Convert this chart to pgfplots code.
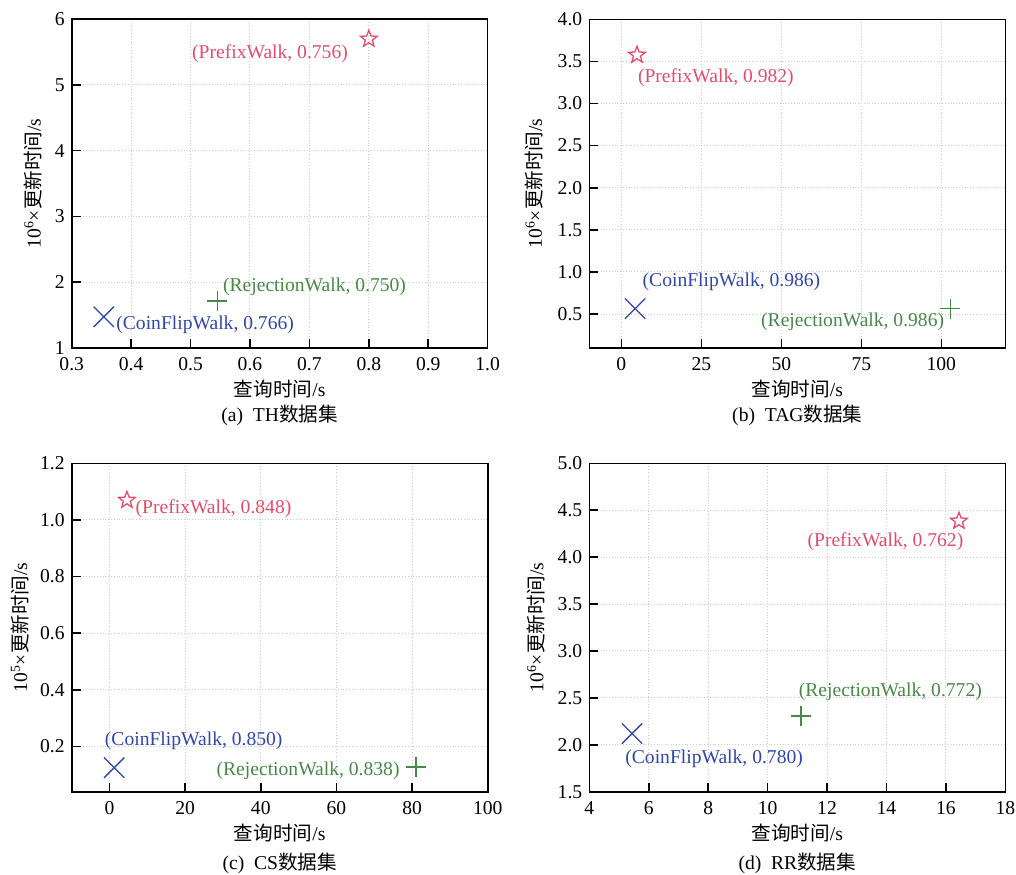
\documentclass[border=0pt]{standalone}
\usepackage{fontspec}
\setmainfont{Liberation Serif}
\newfontfamily\cjk{Noto Sans CJK SC}
\usepackage{pgfplots}
\pgfplotsset{compat=1.18}
\definecolor{cpink}{RGB}{222,78,108}
\definecolor{cblue}{RGB}{50,70,165}
\definecolor{cgreen}{RGB}{72,135,72}

\pgfdeclareplotmark{ostar}{%
  \pgfpathmoveto{\pgfpointpolar{90}{\pgfplotmarksize}}%
  \pgfpathlineto{\pgfpointpolar{126}{.42\pgfplotmarksize}}%
  \pgfpathlineto{\pgfpointpolar{162}{\pgfplotmarksize}}%
  \pgfpathlineto{\pgfpointpolar{198}{.42\pgfplotmarksize}}%
  \pgfpathlineto{\pgfpointpolar{234}{\pgfplotmarksize}}%
  \pgfpathlineto{\pgfpointpolar{270}{.42\pgfplotmarksize}}%
  \pgfpathlineto{\pgfpointpolar{306}{\pgfplotmarksize}}%
  \pgfpathlineto{\pgfpointpolar{342}{.42\pgfplotmarksize}}%
  \pgfpathlineto{\pgfpointpolar{18}{\pgfplotmarksize}}%
  \pgfpathlineto{\pgfpointpolar{54}{.42\pgfplotmarksize}}%
  \pgfpathclose
  \pgfusepathqstroke
}

\pgfplotsset{
  myax/.style={
    scale only axis, width=208pt, height=164.2pt,
    axis line style={line width=0.8pt},
    tick align=inside, tick pos=left,
    major tick length=4.5pt,
    every tick/.style={black, line width=0.8pt},
    grid=major, grid style={densely dotted, gray!40, line width=0.5pt},
    /pgf/number format/assume math mode=true,
    tick label style={font=\fontsize{9.8}{12}\selectfont},
    xticklabel style={yshift=-1.5pt},
    label style={font=\fontsize{9.8}{12}\selectfont},
    x label style={at={(axis description cs:0.5,0)},anchor=center,yshift=-20.5pt},
    xlabel={{\cjk 查询时间}/s},
    clip=false,
  },
  yl/.style={y label style={at={([xshift=-#1]axis description cs:0,0.5)},anchor=center}},
  pstar/.style={only marks, mark=ostar, mark size=4.4pt, color=cpink, mark options={line width=0.65pt}},
  pcross/.style={only marks, mark=x, mark size=7.2pt, color=cblue, mark options={line width=0.65pt}},
  pplus/.style={only marks, mark=+, mark size=5pt, color=cgreen, mark options={line width=0.65pt}},
  onedec/.style={#1ticklabel style={/pgf/number format/.cd, fixed, fixed zerofill, precision=1}},
}
\tikzset{lab/.style={font=\fontsize{9.8}{12}\selectfont, inner sep=0pt}}

\begin{document}
\begin{tikzpicture}
\useasboundingbox (0,0) rectangle (508pt,437pt);

% (a) TH
\begin{axis}[myax, at={(35.85pt,263.15pt)}, anchor=south west,
  xmin=0.3, xmax=1.0, ymin=1, ymax=6,
  xtick={0.3,0.4,0.5,0.6,0.7,0.8,0.9,1.0}, ytick={1,2,3,4,5,6},
  onedec=x, yl=19.3pt,
  ylabel={10\textsuperscript{6}×{\cjk 更新时间}/s}]
\addplot[pstar] coordinates {(0.800,5.70)};
\addplot[pcross] coordinates {(0.354,1.47)};
\addplot[pplus] coordinates {(0.545,1.71)};
\node[lab, anchor=east, text=cpink] at (axis cs:0.7654,5.469) {(PrefixWalk, 0.756)};
\node[lab, anchor=west, text=cgreen] at (axis cs:0.554,1.930) {(RejectionWalk, 0.750)};
\node[lab, anchor=west, text=cblue] at (axis cs:0.3745,1.347) {(CoinFlipWalk, 0.766)};
\node[lab] at (rel axis cs:0.5,0) [yshift=-33.65pt] {(a)\ \ TH{\cjk 数据集}};
\end{axis}

% (b) TAG
\begin{axis}[myax, at={(294.65pt,263.15pt)}, anchor=south west,
  xmin=-10, xmax=120, ymin=0.1, ymax=4.0,
  xtick={0,25,50,75,100}, ytick={0.5,1.0,1.5,2.0,2.5,3.0,3.5,4.0},
  onedec=y, yl=27.4pt,
  ylabel={10\textsuperscript{6}×{\cjk 更新时间}/s}]
\addplot[pstar] coordinates {(4.9,3.576)};
\addplot[pcross] coordinates {(4.3,0.564)};
\addplot[pplus] coordinates {(102.8,0.564)};
\node[lab, anchor=west, text=cpink] at (axis cs:5.1,3.306) {(PrefixWalk, 0.982)};
\node[lab, anchor=west, text=cblue] at (axis cs:6.55,0.888) {(CoinFlipWalk, 0.986)};
\node[lab, anchor=east, text=cgreen] at (axis cs:101.0,0.404) {(RejectionWalk, 0.986)};
\node[lab] at (rel axis cs:0.5,0) [yshift=-33.65pt] {(b)\ \ TAG{\cjk 数据集}};
\end{axis}

% (c) CS
\begin{axis}[myax, at={(35.85pt,41.15pt)}, anchor=south west,
  xmin=-10, xmax=100, ymin=0.04, ymax=1.2,
  xtick={0,20,40,60,80,100}, ytick={0.2,0.4,0.6,0.8,1.0,1.2},
  onedec=y, yl=26pt,
  ylabel={10\textsuperscript{5}×{\cjk 更新时间}/s}]
\addplot[pstar] coordinates {(4.6,1.07)};
\addplot[pcross] coordinates {(1.24,0.125)};
\addplot[pplus] coordinates {(81.05,0.127)};
\node[lab, anchor=west, text=cpink] at (axis cs:6.8,1.039) {(PrefixWalk, 0.848)};
\node[lab, anchor=west, text=cblue] at (axis cs:-1.32,0.221) {(CoinFlipWalk, 0.850)};
\node[lab, anchor=east, text=cgreen] at (axis cs:76.8,0.115) {(RejectionWalk, 0.838)};
\node[lab] at (rel axis cs:0.5,0) [yshift=-35.8pt] {(c)\ \ CS{\cjk 数据集}};
\end{axis}

% (d) RR
\begin{axis}[myax, at={(294.65pt,41.15pt)}, anchor=south west,
  xmin=4, xmax=18, ymin=1.5, ymax=5.0,
  xtick={4,6,8,10,12,14,16,18}, ytick={1.5,2.0,2.5,3.0,3.5,4.0,4.5,5.0},
  onedec=y, yl=26.75pt,
  ylabel={10\textsuperscript{6}×{\cjk 更新时间}/s}]
\addplot[pstar] coordinates {(16.44,4.385)};
\addplot[pcross] coordinates {(5.44,2.12)};
\addplot[pplus] coordinates {(11.12,2.307)};
\node[lab, anchor=east, text=cpink] at (axis cs:16.6,4.164) {(PrefixWalk, 0.762)};
\node[lab, anchor=west, text=cgreen] at (axis cs:11.04,2.563) {(RejectionWalk, 0.772)};
\node[lab, anchor=west, text=cblue] at (axis cs:5.2,1.849) {(CoinFlipWalk, 0.780)};
\node[lab] at (rel axis cs:0.5,0) [yshift=-35.8pt] {(d)\ \ RR{\cjk 数据集}};
\end{axis}
\end{tikzpicture}
\end{document}
